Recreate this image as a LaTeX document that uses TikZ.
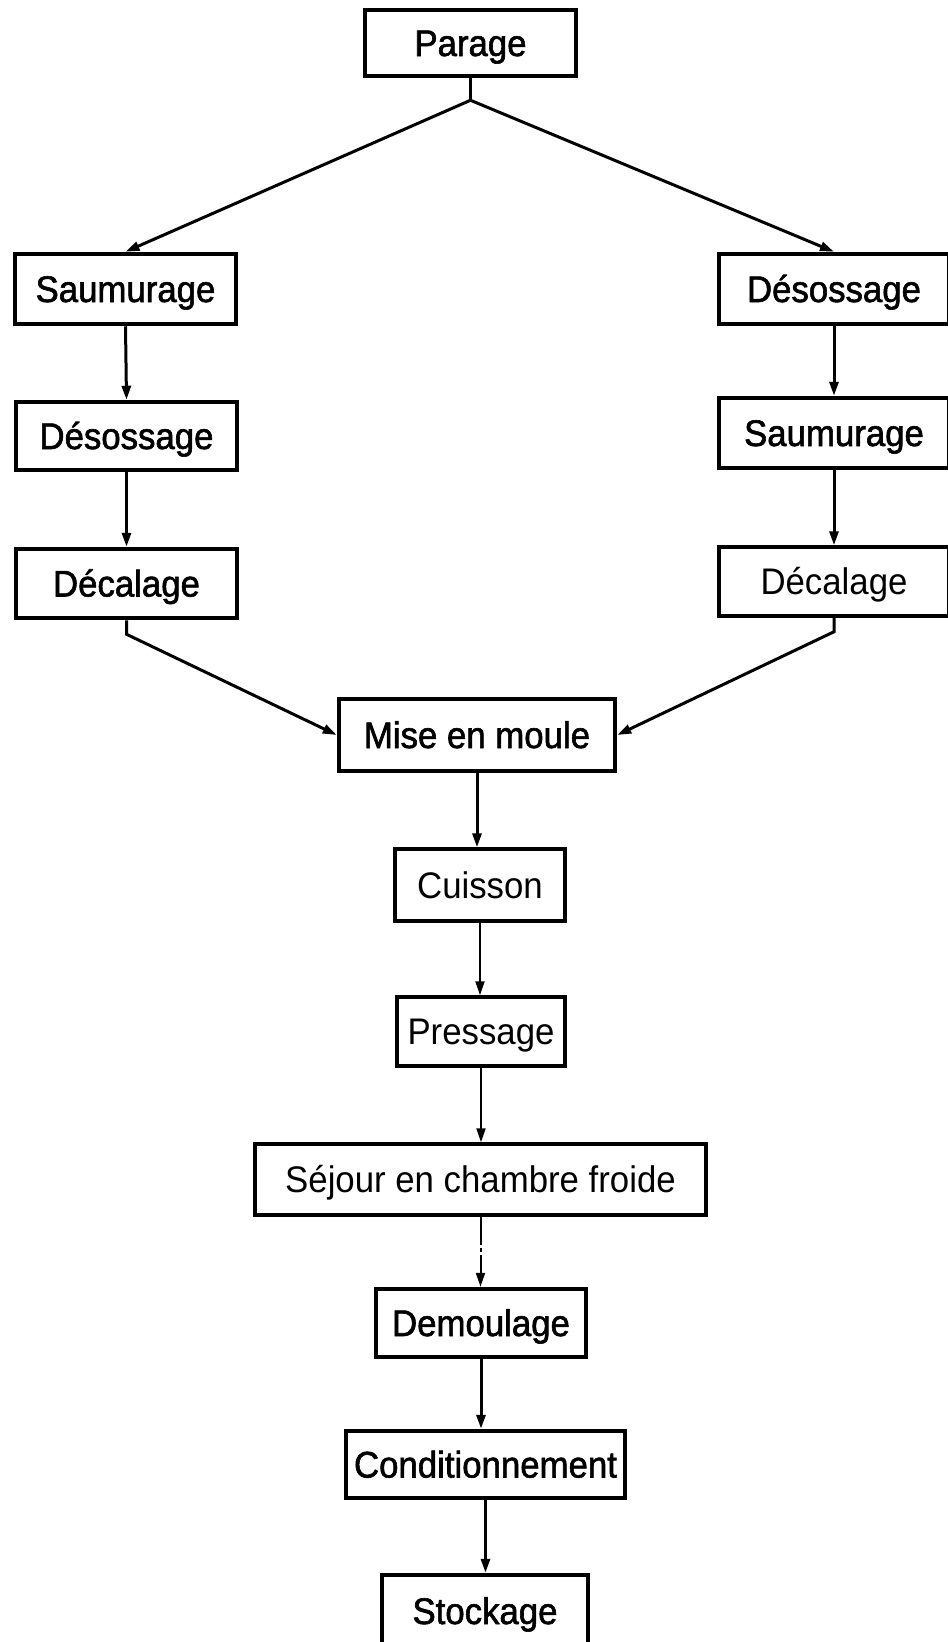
\documentclass[tikz,border=0pt]{standalone}
\usepackage{fontspec}
\setmainfont[FakeStretch=0.94]{Liberation Sans}
\newfontfamily\heavyface[FakeStretch=0.94,FakeBold=1.6]{Liberation Sans}
\usetikzlibrary{arrows.meta}
\begin{document}
\begin{tikzpicture}[x=1pt, y=-1pt,
  stepbox/.style={draw, line width=4.5pt, inner sep=0pt, align=center,
    text height=26pt, text depth=0pt,
    font=\heavyface\fontsize{37}{40}\selectfont},
  lightbox/.style={stepbox, line width=3.5pt,
    font=\rmfamily\fontsize{37}{40}\selectfont},
  flow/.style={line width=3pt, -{Triangle[length=14pt,width=9pt]}},
  thinflow/.style={line width=2pt, -{Triangle[length=14pt,width=9pt]}},
  plain/.style={line width=3pt}]
\useasboundingbox[fill=white] (0,0) rectangle (948,1642);

% top
\node[stepbox, minimum width=211pt, minimum height=66pt] (parage) at (470.5,43) {Parage};

% left branch
\node[stepbox, minimum width=221pt, minimum height=70pt] (sauL) at (125.5,289) {Saumurage};
\node[stepbox, minimum width=221pt, minimum height=68pt] (desL) at (126.5,436) {Désossage};
\node[stepbox, minimum width=221pt, minimum height=69pt] (decL) at (126.5,583.5) {Décalage};

% right branch
\node[stepbox, minimum width=230pt, minimum height=70pt] (desR) at (834,289) {Désossage};
\node[stepbox, minimum width=230pt, minimum height=70pt] (sauR) at (834,433) {Saumurage};
\node[lightbox, minimum width=230pt, minimum height=69pt] (decR) at (834,581.5) {Décalage};

% common trunk
\node[stepbox, minimum width=276pt, minimum height=72pt] (mise) at (477,735) {Mise en moule};
\node[lightbox, minimum width=170pt, minimum height=72pt] (cuis) at (480,885) {Cuisson};
\node[lightbox, minimum width=168pt, minimum height=69pt] (press) at (481,1031.5) {Pressage};
\node[lightbox, minimum width=451pt, minimum height=71pt] (sejour) at (480.5,1179.5) {Séjour en chambre froide};
\node[stepbox, minimum width=210pt, minimum height=68pt] (demoul) at (481,1323) {Demoulage};
\node[stepbox, minimum width=279pt, minimum height=67pt] (cond) at (485.5,1464.5) {Conditionnement};
\node[stepbox, minimum width=206pt, minimum height=72pt] (stock) at (485,1611) {Stockage};

% fork below the first step
\draw[plain] (parage.south) -- ++(0,22) coordinate (fork);
\draw[flow] (fork) -- (sauL.north);
\draw[flow] (fork) -- (desR.north);

% the two columns
\draw[flow] (sauL.south) -- (desL.north);
\draw[flow] (desL.south) -- (decL.north);
\draw[flow] (desR.south) -- (sauR.north);
\draw[flow] (sauR.south) -- (decR.north);

% merge into the mould
\draw[flow] (decL.south) -- ++(0,14) -- (mise.west);
\draw[flow] (decR.south) -- ++(0,14) -- (mise.east);

% trunk
\draw[flow] (mise.south) -- (mise.south |- cuis.north);
\draw[thinflow] (cuis.south) -- (cuis.south |- press.north);
\draw[thinflow] (press.south) -- (press.south |- sejour.north);
\draw[thinflow, dash pattern=on 28pt off 3pt on 4pt off 3pt] (sejour.south) -- (sejour.south |- demoul.north);
\draw[flow] (demoul.south) -- (demoul.south |- cond.north);
\draw[flow] (cond.south) -- (cond.south |- stock.north);
\end{tikzpicture}
\end{document}
